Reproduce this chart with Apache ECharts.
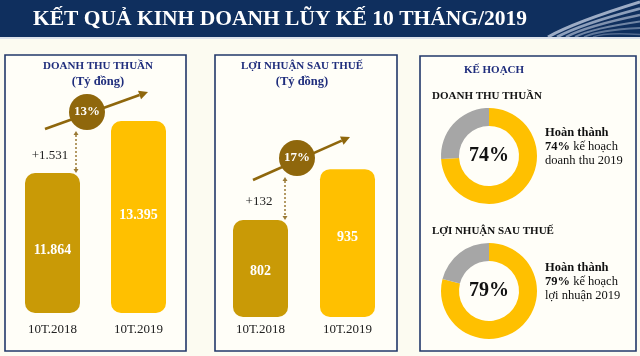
<!DOCTYPE html>
<html>
<head>
<meta charset="utf-8">
<script src="https://cdn.jsdelivr.net/npm/echarts@6/dist/echarts.min.js"></script>
<style>html,body{margin:0;padding:0;background:#FCFBF1;}#c{width:640px;height:356px;}</style>
</head>
<body>
<div id="c"></div>
<script>
// ---- data ----
const pageTitle = 'KẾT QUẢ KINH DOANH LŨY KẾ 10 THÁNG/2019';
const categories = ['10T.2018', '10T.2019'];
const revenue = [11864, 13395];          // Doanh thu thuần (tỷ đồng)
const profit = [802, 935];               // Lợi nhuận sau thuế (tỷ đồng)
const revenueChange = ['+1.531', '13%'];
const profitChange = ['+132', '17%'];
const planPct = [74, 79];                // % kế hoạch hoàn thành
const planTitles = ['DOANH THU THUẦN', 'LỢI NHUẬN SAU THUẾ'];
const planNotes = ['doanh thu 2019', 'lợi nhuận 2019'];
const panelTitles = ['DOANH THU THUẦN', 'LỢI NHUẬN SAU THUẾ', 'KẾ HOẠCH'];
const unitLabel = '(Tỷ đồng)';

const SERIF = '"Liberation Serif", "DejaVu Serif", serif';
const C_DARK = '#C99A06', C_LIGHT = '#FFC000', C_GREY = '#A6A6A6';
const C_BROWN = '#8F670C', C_NAVY = '#1F2D7C';
const fmt = v => String(v).replace(/\B(?=(\d{3})+(?!\d))/g, '.');

const chart = echarts.init(document.getElementById('c'));

function arrow(x1, y1, x2, y2, color, w, head, dash) {
  const dx = x2 - x1, dy = y2 - y1, L = Math.hypot(dx, dy);
  const ux = dx / L, uy = dy / L, px = -uy, py = ux;
  const bx = x2 - ux * head, by = y2 - uy * head;
  return [
    {type: 'line', shape: {x1: x1, y1: y1, x2: bx, y2: by}, style: {stroke: color, lineWidth: w, lineDash: dash || null}, z: 5},
    {type: 'polygon', shape: {points: [[x2, y2], [bx + px * head * 0.5, by + py * head * 0.5], [bx - px * head * 0.5, by - py * head * 0.5]]}, style: {fill: color}, z: 5}
  ];
}
function dblArrow(x, y1, y2, color) {
  const h = 4;
  return [
    {type: 'line', shape: {x1: x, y1: y1 + h, x2: x, y2: y2 - h}, style: {stroke: color, lineWidth: 1.5, lineDash: [2, 2]}, z: 5},
    {type: 'polygon', shape: {points: [[x, y1], [x - 2.5, y1 + h], [x + 2.5, y1 + h]]}, style: {fill: color}, z: 5},
    {type: 'polygon', shape: {points: [[x, y2], [x - 2.5, y2 - h], [x + 2.5, y2 - h]]}, style: {fill: color}, z: 5}
  ];
}
function txt(x, y, text, size, color, weight, align) {
  return {type: 'text', x: x, y: y, z: 10, style: {text: text, font: (weight || 'normal') + ' ' + size + 'px ' + SERIF, fill: color, align: align || 'center', verticalAlign: 'middle'}};
}

const graphics = [];
// header band
graphics.push({type: 'rect', shape: {x: 0, y: 0, width: 640, height: 37}, style: {fill: '#0F2F5E'}, z: 1});
graphics.push({type: 'rect', shape: {x: 0, y: 37, width: 640, height: 2}, style: {fill: '#DDE2EA'}, z: 1});
for (let i = 0; i < 6; i++) {
  graphics.push({type: 'bezierCurve', shape: {x1: 548 + i * 9, y1: 37, cpx1: 575 + i * 6, cpy1: 22 + i * 2, x2: 640, y2: 2 + i * 6.5},
    style: {stroke: 'rgba(205,215,232,' + (0.75 - i * 0.08) + ')', lineWidth: 3 - i * 0.3, fill: null}, z: 2});
}
graphics.push(txt(33, 19, pageTitle, 21.5, '#FFFFFF', 'bold', 'left'));

// panels
[[5, 55, 181, 296], [215, 55, 182, 296], [420, 56, 216, 295]].forEach(p => {
  graphics.push({type: 'rect', shape: {x: p[0], y: p[1], width: p[2], height: p[3]}, style: {fill: '#FFFEF8', stroke: '#22386A', lineWidth: 1.6}, z: 0});
});
graphics.push(txt(98, 66, panelTitles[0], 11, C_NAVY, 'bold'));
graphics.push(txt(98, 82, unitLabel, 12.5, C_NAVY, 'bold'));
graphics.push(txt(302, 66, panelTitles[1], 11, C_NAVY, 'bold'));
graphics.push(txt(302, 82, unitLabel, 12.5, C_NAVY, 'bold'));
graphics.push(txt(494, 70, panelTitles[2], 11, C_NAVY, 'bold'));

// growth annotations
graphics.push(...arrow(45, 129, 148, 92, C_BROWN, 2.6, 9));
graphics.push({type: 'circle', shape: {cx: 87, cy: 112, r: 18}, style: {fill: C_BROWN}, z: 6});
graphics.push(txt(87, 112, revenueChange[1], 13, '#FFFFFF', 'bold'));
graphics.push(...dblArrow(76, 131, 173, '#9A7A35'));
graphics.push(txt(50, 156, revenueChange[0], 13, '#222222'));

graphics.push(...arrow(253, 180, 350, 137, C_BROWN, 2.6, 9));
graphics.push({type: 'circle', shape: {cx: 297, cy: 158, r: 18}, style: {fill: C_BROWN}, z: 6});
graphics.push(txt(297, 158, profitChange[1], 13, '#FFFFFF', 'bold'));
graphics.push(...dblArrow(285, 177, 220, '#9A7A35'));
graphics.push(txt(259, 202, profitChange[0], 13, '#222222'));

// plan section texts
const donutCenters = [[489, 156], [489, 291]];
const planTitleY = [96, 231];
planPct.forEach((p, i) => {
  graphics.push(txt(432, planTitleY[i], planTitles[i], 11, '#111111', 'bold', 'left'));
  graphics.push(txt(donutCenters[i][0], donutCenters[i][1], p + '%', 20, '#111111', 'bold'));
  graphics.push({type: 'text', x: 545, y: donutCenters[i][1] - 9, z: 10, style: {
    text: '{b|Hoàn thành}\n{b|' + p + '%}{r| kế hoạch}\n{r|' + planNotes[i] + '}',
    verticalAlign: 'middle', align: 'left',
    rich: {
      b: {font: 'bold 12.5px ' + SERIF, fill: '#111111', lineHeight: 14},
      r: {font: 'normal 12.5px ' + SERIF, fill: '#111111', lineHeight: 14}
    }
  }});
});

function barSeries(vals, axis, offsets) {
  return {
    type: 'bar', xAxisIndex: axis, yAxisIndex: axis, barWidth: 55,
    data: vals.map((v, i) => ({
      value: v,
      itemStyle: {color: i === 0 ? C_DARK : C_LIGHT, borderRadius: 10},
      label: {show: true, position: 'inside', offset: [0, offsets[i]], formatter: () => fmt(v),
        color: '#FFFFFF', fontFamily: SERIF, fontWeight: 'bold', fontSize: 14}
    })),
    silent: true
  };
}
const xAx = (grid, margin) => ({
  type: 'category', gridIndex: grid, data: categories,
  axisLine: {show: false}, axisTick: {show: false}, splitLine: {show: false},
  axisLabel: {margin: margin, color: '#222222', fontFamily: SERIF, fontSize: 13}
});
const yAx = (grid, min, max) => ({type: 'value', gridIndex: grid, min: min, max: max, show: false, splitLine: {show: false}});

function donut(i) {
  return {
    type: 'pie', radius: [30, 48], center: donutCenters[i], startAngle: 90, clockwise: true,
    silent: true, label: {show: false}, labelLine: {show: false},
    data: [
      {value: planPct[i], itemStyle: {color: C_LIGHT}},
      {value: 100 - planPct[i], itemStyle: {color: C_GREY}}
    ]
  };
}

chart.setOption({
  animation: false,
  backgroundColor: '#FCFBF1',
  grid: [
    {left: 9.5, width: 172, top: 100, height: 213},
    {left: 217, width: 174, top: 150, height: 167}
  ],
  xAxis: [xAx(0, 10), xAx(1, 6)],
  yAxis: [yAx(0, 7742, 14013), yAx(1, 549, 985)],
  series: [barSeries(revenue, 0, [7, -2]), barSeries(profit, 1, [3, -6]), donut(0), donut(1)],
  graphic: graphics
});
</script>
</body>
</html>
